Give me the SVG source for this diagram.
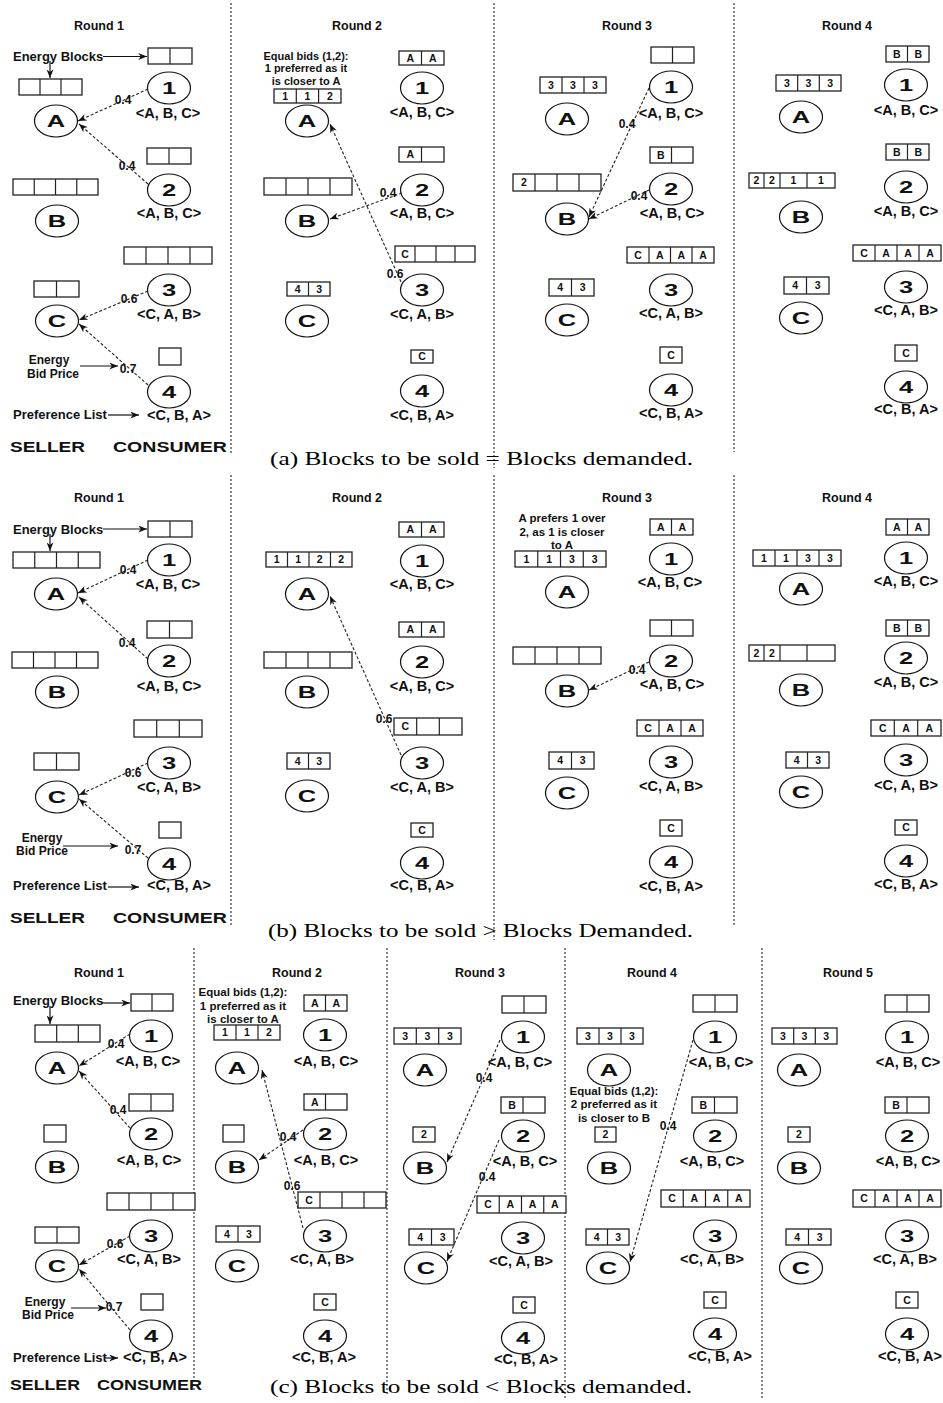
<svg xmlns="http://www.w3.org/2000/svg" width="943" height="1403" viewBox="0 0 943 1403">
<style>
.t{font-family:'Liberation Sans',Arial,sans-serif;font-weight:bold;fill:#111}
.rt{font-size:12.5px;text-anchor:middle}
.pl{font-size:14.5px;text-anchor:middle}
.bl{font-size:12px;text-anchor:middle}
.cl{font-size:17px;text-anchor:middle;transform-box:fill-box;transform-origin:center;transform:scaleX(1.5)}
.cx{font-size:10.5px;text-anchor:middle}
.an{font-size:13px}
.an2{font-size:12px;text-anchor:middle}
.nt{font-size:11.5px;text-anchor:middle}
.sc{font-size:15px}
.cap{font-family:'Liberation Serif','Times New Roman',serif;font-size:19px;fill:#000}
.bx{fill:#fff;stroke:#222;stroke-width:1.3}
.dv{stroke:#222;stroke-width:1.2;fill:none}
.nd{fill:#fff;stroke:#111;stroke-width:1.2}
.cn{fill:none;stroke:#222;stroke-width:1.1;stroke-dasharray:3 2}
.ar{fill:none;stroke:#111;stroke-width:1.2}
.sp{stroke:#444;stroke-width:1.3;stroke-dasharray:2 2}
</style>
<defs>
<marker id="ah" viewBox="0 0 10 8" refX="10" refY="4" markerWidth="9" markerHeight="7" markerUnits="userSpaceOnUse" orient="auto"><path d="M0,0 L10,4 L0,8 L3,4 z" fill="#111"/></marker>
</defs>
<rect width="943" height="1403" fill="#fff"/>

<!-- separators -->
<g id="separators">
<line class="sp" x1="231" y1="3" x2="231" y2="455"/>
<line class="sp" x1="494" y1="3" x2="494" y2="468"/>
<line class="sp" x1="734" y1="3" x2="734" y2="452"/>
<line class="sp" x1="231" y1="475" x2="231" y2="925"/>
<line class="sp" x1="494" y1="475" x2="494" y2="940"/>
<line class="sp" x1="734" y1="475" x2="734" y2="925"/>
<line class="sp" x1="194" y1="948" x2="194" y2="1392"/>
<line class="sp" x1="387" y1="948" x2="387" y2="1395"/>
<line class="sp" x1="565" y1="948" x2="565" y2="1398"/>
<line class="sp" x1="762" y1="948" x2="762" y2="1398"/>
</g>

<!-- titles and captions -->
<g id="titles">
<text class="t rt" x="99" y="30">Round 1</text>
<text class="t rt" x="357" y="30">Round 2</text>
<text class="t rt" x="627" y="30">Round 3</text>
<text class="t rt" x="847" y="30">Round 4</text>
<text class="t rt" x="99" y="502">Round 1</text>
<text class="t rt" x="357" y="502">Round 2</text>
<text class="t rt" x="627" y="502">Round 3</text>
<text class="t rt" x="847" y="502">Round 4</text>
<text class="t rt" x="99" y="977">Round 1</text>
<text class="t rt" x="297" y="977">Round 2</text>
<text class="t rt" x="480" y="977">Round 3</text>
<text class="t rt" x="652" y="977">Round 4</text>
<text class="t rt" x="848" y="977">Round 5</text>
<text class="t sc" x="10" y="452" textLength="75" lengthAdjust="spacingAndGlyphs">SELLER</text>
<text class="t sc" x="113" y="452" textLength="114" lengthAdjust="spacingAndGlyphs">CONSUMER</text>
<text class="t sc" x="10" y="923" textLength="75" lengthAdjust="spacingAndGlyphs">SELLER</text>
<text class="t sc" x="113" y="923" textLength="114" lengthAdjust="spacingAndGlyphs">CONSUMER</text>
<text class="t sc" x="10" y="1390" textLength="70" lengthAdjust="spacingAndGlyphs">SELLER</text>
<text class="t sc" x="97" y="1390" textLength="105" lengthAdjust="spacingAndGlyphs">CONSUMER</text>
<text class="cap" x="270" y="465" textLength="423" lengthAdjust="spacingAndGlyphs">(a) Blocks to be sold = Blocks demanded.</text>
<text class="cap" x="268" y="937" textLength="425" lengthAdjust="spacingAndGlyphs">(b) Blocks to be sold &gt; Blocks Demanded.</text>
<text class="cap" x="270" y="1393" textLength="422" lengthAdjust="spacingAndGlyphs">(c) Blocks to be sold &lt; Blocks demanded.</text>
</g>

<!-- annotations -->
<g id="annotations">
<text class="t an" x="13" y="61">Energy Blocks</text>
<text class="t an2" x="49" y="364">Energy</text>
<text class="t an2" x="53" y="377.5">Bid Price</text>
<text class="t an" x="13" y="419">Preference List</text>
<text class="t an" x="13" y="534">Energy Blocks</text>
<text class="t an2" x="42" y="841.5">Energy</text>
<text class="t an2" x="42" y="855">Bid Price</text>
<text class="t an" x="13" y="890">Preference List</text>
<text class="t an" x="13" y="1005">Energy Blocks</text>
<text class="t an2" x="45" y="1305.5">Energy</text>
<text class="t an2" x="48" y="1319">Bid Price</text>
<text class="t an" x="13" y="1362">Preference List</text>
<text class="t nt" x="306" y="59.6" style="font-size:11px">Equal bids (1,2):</text>
<text class="t nt" x="306" y="72.3" style="font-size:11px">1 preferred as it</text>
<text class="t nt" x="306" y="85" style="font-size:11px">is closer to A</text>
<text class="t nt" x="562" y="522.4">A prefers 1 over</text>
<text class="t nt" x="562" y="535.7">2, as 1 is closer</text>
<text class="t nt" x="562" y="549">to A</text>
<text class="t nt" x="243" y="996.4">Equal bids (1,2):</text>
<text class="t nt" x="243" y="1009.7">1 preferred as it</text>
<text class="t nt" x="243" y="1023">is closer to A</text>
<text class="t nt" x="614" y="1095">Equal bids (1,2):</text>
<text class="t nt" x="614" y="1108.3">2 preferred as it</text>
<text class="t nt" x="614" y="1121.6">is closer to B</text>
</g>

<!-- ===== (a) ===== -->
<g id="a1-A"><rect class="bx" x="19" y="79" width="63" height="16"/><path class="dv" d="M40,79v16M61,79v16"/><ellipse class="nd" cx="56" cy="121" rx="21.5" ry="16"/><text class="t cl" x="56" y="127">A</text></g>
<g id="a1-B"><rect class="bx" x="13" y="179" width="85" height="16"/><path class="dv" d="M34.25,179v16M55.5,179v16M76.75,179v16"/><ellipse class="nd" cx="57" cy="221" rx="21.5" ry="16"/><text class="t cl" x="57" y="227">B</text></g>
<g id="a1-C"><rect class="bx" x="34" y="281" width="45" height="16"/><path class="dv" d="M56.5,281v16"/><ellipse class="nd" cx="57" cy="321" rx="21.5" ry="16"/><text class="t cl" x="57" y="327">C</text></g>
<g id="a1-1"><rect class="bx" x="148" y="48" width="44" height="16"/><path class="dv" d="M170,48v16"/><ellipse class="nd" cx="169" cy="88" rx="21.5" ry="16"/><text class="t cl" x="169" y="94">1</text><text class="t pl" x="168" y="118">&lt;A, B, C&gt;</text></g>
<g id="a1-2"><rect class="bx" x="147" y="148" width="44" height="16"/><path class="dv" d="M169,148v16"/><ellipse class="nd" cx="169" cy="190" rx="21.5" ry="16"/><text class="t cl" x="169" y="196">2</text><text class="t pl" x="169" y="218">&lt;A, B, C&gt;</text></g>
<g id="a1-3"><rect class="bx" x="124" y="247" width="88" height="17"/><path class="dv" d="M146,247v17M168,247v17M190,247v17"/><ellipse class="nd" cx="169" cy="290" rx="21.5" ry="16"/><text class="t cl" x="169" y="296">3</text><text class="t pl" x="169" y="319">&lt;C, A, B&gt;</text></g>
<g id="a1-4"><rect class="bx" x="159" y="348" width="22" height="17"/><ellipse class="nd" cx="169" cy="392" rx="21.5" ry="16"/><text class="t cl" x="169" y="398">4</text><text class="t pl" x="179" y="420">&lt;C, B, A&gt;</text></g>

<g id="a2-A"><rect class="bx" x="274" y="89" width="67" height="14"/><path class="dv" d="M296.3,89v14M318.6,89v14"/><text class="t cx" x="285.2" y="99.8">1</text><text class="t cx" x="307.5" y="99.8">1</text><text class="t cx" x="329.8" y="99.8">2</text><ellipse class="nd" cx="307" cy="121" rx="21.5" ry="16"/><text class="t cl" x="307" y="127">A</text></g>
<g id="a2-B"><rect class="bx" x="264" y="178" width="88" height="17"/><path class="dv" d="M286,178v17M308,178v17M330,178v17"/><ellipse class="nd" cx="307" cy="221" rx="21.5" ry="16"/><text class="t cl" x="307" y="227">B</text></g>
<g id="a2-C"><rect class="bx" x="287" y="282" width="43" height="14"/><path class="dv" d="M308.5,282v14"/><text class="t cx" x="297.75" y="292.8">4</text><text class="t cx" x="319.25" y="292.8">3</text><ellipse class="nd" cx="307" cy="321" rx="21.5" ry="16"/><text class="t cl" x="307" y="327">C</text></g>
<g id="a2-1"><rect class="bx" x="399" y="51" width="45" height="14"/><path class="dv" d="M421.5,51v14"/><text class="t cx" x="410.25" y="61.8">A</text><text class="t cx" x="432.75" y="61.8">A</text><ellipse class="nd" cx="422" cy="88" rx="21.5" ry="16"/><text class="t cl" x="422" y="94">1</text><text class="t pl" x="422" y="117">&lt;A, B, C&gt;</text></g>
<g id="a2-2"><rect class="bx" x="399" y="147" width="45" height="15"/><path class="dv" d="M421.5,147v15"/><text class="t cx" x="410.25" y="158.3">A</text><ellipse class="nd" cx="422" cy="190" rx="21.5" ry="16"/><text class="t cl" x="422" y="196">2</text><text class="t pl" x="422" y="218">&lt;A, B, C&gt;</text></g>
<g id="a2-3"><rect class="bx" x="395" y="246" width="80" height="16"/><path class="dv" d="M415,246v16M436,246v16M455,246v16"/><text class="t cx" x="405" y="257.8">C</text><ellipse class="nd" cx="422" cy="290" rx="21.5" ry="16"/><text class="t cl" x="422" y="296">3</text><text class="t pl" x="422" y="319">&lt;C, A, B&gt;</text></g>
<g id="a2-4"><rect class="bx" x="411" y="350" width="22" height="13"/><text class="t cx" x="422" y="360.3">C</text><ellipse class="nd" cx="422" cy="391" rx="21.5" ry="16"/><text class="t cl" x="422" y="397">4</text><text class="t pl" x="422" y="420">&lt;C, B, A&gt;</text></g>

<g id="a3-A"><rect class="bx" x="540" y="77" width="66" height="16"/><path class="dv" d="M562,77v16M584,77v16"/><text class="t cx" x="551" y="88.8">3</text><text class="t cx" x="573" y="88.8">3</text><text class="t cx" x="595" y="88.8">3</text><ellipse class="nd" cx="567" cy="119" rx="21.5" ry="16"/><text class="t cl" x="567" y="125">A</text></g>
<g id="a3-B"><rect class="bx" x="513" y="174" width="88" height="17"/><path class="dv" d="M535,174v17M557,174v17M579,174v17"/><text class="t cx" x="524" y="186.3">2</text><ellipse class="nd" cx="567" cy="219" rx="21.5" ry="16"/><text class="t cl" x="567" y="225">B</text></g>
<g id="a3-C"><rect class="bx" x="549" y="279" width="45" height="17"/><path class="dv" d="M571.5,279v17"/><text class="t cx" x="560.25" y="291.3">4</text><text class="t cx" x="582.75" y="291.3">3</text><ellipse class="nd" cx="567" cy="320" rx="21.5" ry="16"/><text class="t cl" x="567" y="326">C</text></g>
<g id="a3-1"><rect class="bx" x="651" y="47" width="43" height="16"/><path class="dv" d="M672.5,47v16"/><ellipse class="nd" cx="671" cy="87" rx="21.5" ry="16"/><text class="t cl" x="671" y="93">1</text><text class="t pl" x="671" y="118">&lt;A, B, C&gt;</text></g>
<g id="a3-2"><rect class="bx" x="650" y="147" width="43" height="16"/><path class="dv" d="M671.5,147v16"/><text class="t cx" x="660.75" y="158.8">B</text><ellipse class="nd" cx="671" cy="189" rx="21.5" ry="16"/><text class="t cl" x="671" y="195">2</text><text class="t pl" x="672" y="218">&lt;A, B, C&gt;</text></g>
<g id="a3-3"><rect class="bx" x="627" y="247" width="87" height="16"/><path class="dv" d="M649,247v16M670.5,247v16M692,247v16"/><text class="t cx" x="638" y="258.8">C</text><text class="t cx" x="659.75" y="258.8">A</text><text class="t cx" x="681.25" y="258.8">A</text><text class="t cx" x="703" y="258.8">A</text><ellipse class="nd" cx="671" cy="290" rx="21.5" ry="16"/><text class="t cl" x="671" y="296">3</text><text class="t pl" x="671" y="318">&lt;C, A, B&gt;</text></g>
<g id="a3-4"><rect class="bx" x="660" y="347" width="22" height="16"/><text class="t cx" x="671" y="358.8">C</text><ellipse class="nd" cx="671" cy="390" rx="21.5" ry="16"/><text class="t cl" x="671" y="396">4</text><text class="t pl" x="671" y="418">&lt;C, B, A&gt;</text></g>

<g id="a4-A"><rect class="bx" x="776" y="75" width="65" height="16"/><path class="dv" d="M797.7,75v16M819.3,75v16"/><text class="t cx" x="786.8" y="86.8">3</text><text class="t cx" x="808.5" y="86.8">3</text><text class="t cx" x="830.2" y="86.8">3</text><ellipse class="nd" cx="801" cy="117" rx="21.5" ry="16"/><text class="t cl" x="801" y="123">A</text></g>
<g id="a4-B"><rect class="bx" x="749" y="173" width="86" height="15"/><path class="dv" d="M764,173v15M780,173v15M807,173v15"/><text class="t cx" x="756.5" y="184.3">2</text><text class="t cx" x="772" y="184.3">2</text><text class="t cx" x="793.5" y="184.3">1</text><text class="t cx" x="821" y="184.3">1</text><ellipse class="nd" cx="801" cy="217" rx="21.5" ry="16"/><text class="t cl" x="801" y="223">B</text></g>
<g id="a4-C"><rect class="bx" x="784" y="277" width="45" height="17"/><path class="dv" d="M806.5,277v17"/><text class="t cx" x="795.25" y="289.3">4</text><text class="t cx" x="817.75" y="289.3">3</text><ellipse class="nd" cx="801" cy="318" rx="21.5" ry="16"/><text class="t cl" x="801" y="324">C</text></g>
<g id="a4-1"><rect class="bx" x="886" y="46" width="43" height="16"/><path class="dv" d="M907.5,46v16"/><text class="t cx" x="896.75" y="57.8">B</text><text class="t cx" x="918.25" y="57.8">B</text><ellipse class="nd" cx="906" cy="85" rx="21.5" ry="16"/><text class="t cl" x="906" y="91">1</text><text class="t pl" x="906" y="115">&lt;A, B, C&gt;</text></g>
<g id="a4-2"><rect class="bx" x="886" y="144" width="43" height="16"/><path class="dv" d="M907.5,144v16"/><text class="t cx" x="896.75" y="155.8">B</text><text class="t cx" x="918.25" y="155.8">B</text><ellipse class="nd" cx="906" cy="187" rx="21.5" ry="16"/><text class="t cl" x="906" y="193">2</text><text class="t pl" x="906" y="216">&lt;A, B, C&gt;</text></g>
<g id="a4-3"><rect class="bx" x="853" y="245" width="88" height="16"/><path class="dv" d="M875,245v16M897,245v16M919,245v16"/><text class="t cx" x="864" y="256.8">C</text><text class="t cx" x="886" y="256.8">A</text><text class="t cx" x="908" y="256.8">A</text><text class="t cx" x="930" y="256.8">A</text><ellipse class="nd" cx="906" cy="287" rx="21.5" ry="16"/><text class="t cl" x="906" y="293">3</text><text class="t pl" x="906" y="315">&lt;C, A, B&gt;</text></g>
<g id="a4-4"><rect class="bx" x="895" y="345" width="22" height="16"/><text class="t cx" x="906" y="356.8">C</text><ellipse class="nd" cx="906" cy="387" rx="21.5" ry="16"/><text class="t cl" x="906" y="393">4</text><text class="t pl" x="906" y="414">&lt;C, B, A&gt;</text></g>

<!-- ===== (b) ===== -->
<g id="b1-A"><rect class="bx" x="13" y="552" width="87" height="16"/><path class="dv" d="M34.75,552v16M56.5,552v16M78.25,552v16"/><ellipse class="nd" cx="56" cy="594" rx="21.5" ry="16"/><text class="t cl" x="56" y="600">A</text></g>
<g id="b1-B"><rect class="bx" x="12" y="652" width="86" height="16"/><path class="dv" d="M33.5,652v16M55,652v16M76.5,652v16"/><ellipse class="nd" cx="57" cy="692" rx="21.5" ry="16"/><text class="t cl" x="57" y="698">B</text></g>
<g id="b1-C"><rect class="bx" x="34" y="753" width="45" height="17"/><path class="dv" d="M56.5,753v17"/><ellipse class="nd" cx="57" cy="797" rx="21.5" ry="16"/><text class="t cl" x="57" y="803">C</text></g>
<g id="b1-1"><rect class="bx" x="148" y="521" width="44" height="16"/><path class="dv" d="M170,521v16"/><ellipse class="nd" cx="169" cy="560" rx="21.5" ry="16"/><text class="t cl" x="169" y="566">1</text><text class="t pl" x="168" y="589">&lt;A, B, C&gt;</text></g>
<g id="b1-2"><rect class="bx" x="147" y="621" width="45" height="17"/><path class="dv" d="M169.5,621v17"/><ellipse class="nd" cx="169" cy="661" rx="21.5" ry="16"/><text class="t cl" x="169" y="667">2</text><text class="t pl" x="169" y="691">&lt;A, B, C&gt;</text></g>
<g id="b1-3"><rect class="bx" x="134" y="720" width="68" height="17"/><path class="dv" d="M156.7,720v17M179.3,720v17"/><ellipse class="nd" cx="169" cy="763" rx="21.5" ry="16"/><text class="t cl" x="169" y="769">3</text><text class="t pl" x="169" y="792">&lt;C, A, B&gt;</text></g>
<g id="b1-4"><rect class="bx" x="159" y="822" width="22" height="16"/><ellipse class="nd" cx="169" cy="864" rx="21.5" ry="16"/><text class="t cl" x="169" y="870">4</text><text class="t pl" x="179" y="890">&lt;C, B, A&gt;</text></g>

<g id="b2-A"><rect class="bx" x="266" y="552" width="86" height="15"/><path class="dv" d="M287.5,552v15M309,552v15M330.5,552v15"/><text class="t cx" x="276.75" y="563.3">1</text><text class="t cx" x="298.25" y="563.3">1</text><text class="t cx" x="319.75" y="563.3">2</text><text class="t cx" x="341.25" y="563.3">2</text><ellipse class="nd" cx="307" cy="594" rx="21.5" ry="16"/><text class="t cl" x="307" y="600">A</text></g>
<g id="b2-B"><rect class="bx" x="264" y="652" width="88" height="16"/><path class="dv" d="M286,652v16M308,652v16M330,652v16"/><ellipse class="nd" cx="307" cy="692" rx="21.5" ry="16"/><text class="t cl" x="307" y="698">B</text></g>
<g id="b2-C"><rect class="bx" x="287" y="753" width="43" height="16"/><path class="dv" d="M308.5,753v16"/><text class="t cx" x="297.75" y="764.8">4</text><text class="t cx" x="319.25" y="764.8">3</text><ellipse class="nd" cx="307" cy="796" rx="21.5" ry="16"/><text class="t cl" x="307" y="802">C</text></g>
<g id="b2-1"><rect class="bx" x="399" y="522" width="45" height="15"/><path class="dv" d="M421.5,522v15"/><text class="t cx" x="410.25" y="533.3">A</text><text class="t cx" x="432.75" y="533.3">A</text><ellipse class="nd" cx="422" cy="561" rx="21.5" ry="16"/><text class="t cl" x="422" y="567">1</text><text class="t pl" x="422" y="589">&lt;A, B, C&gt;</text></g>
<g id="b2-2"><rect class="bx" x="399" y="622" width="45" height="15"/><path class="dv" d="M421.5,622v15"/><text class="t cx" x="410.25" y="633.3">A</text><text class="t cx" x="432.75" y="633.3">A</text><ellipse class="nd" cx="422" cy="662" rx="21.5" ry="16"/><text class="t cl" x="422" y="668">2</text><text class="t pl" x="422" y="691">&lt;A, B, C&gt;</text></g>
<g id="b2-3"><rect class="bx" x="394" y="718" width="68" height="17"/><path class="dv" d="M416.7,718v17M439.3,718v17"/><text class="t cx" x="405.3" y="730.3">C</text><ellipse class="nd" cx="422" cy="763" rx="21.5" ry="16"/><text class="t cl" x="422" y="769">3</text><text class="t pl" x="422" y="792">&lt;C, A, B&gt;</text></g>
<g id="b2-4"><rect class="bx" x="411" y="823" width="22" height="14"/><text class="t cx" x="422" y="833.8">C</text><ellipse class="nd" cx="422" cy="863" rx="21.5" ry="16"/><text class="t cl" x="422" y="869">4</text><text class="t pl" x="422" y="890">&lt;C, B, A&gt;</text></g>

<g id="b3-A"><rect class="bx" x="515" y="551" width="91" height="16"/><path class="dv" d="M537.75,551v16M560.5,551v16M583.25,551v16"/><text class="t cx" x="526.4" y="562.8">1</text><text class="t cx" x="549.1" y="562.8">1</text><text class="t cx" x="571.9" y="562.8">3</text><text class="t cx" x="594.6" y="562.8">3</text><ellipse class="nd" cx="567" cy="592" rx="21.5" ry="16"/><text class="t cl" x="567" y="598">A</text></g>
<g id="b3-B"><rect class="bx" x="513" y="647" width="88" height="17"/><path class="dv" d="M535,647v17M557,647v17M579,647v17"/><ellipse class="nd" cx="567" cy="691" rx="21.5" ry="16"/><text class="t cl" x="567" y="697">B</text></g>
<g id="b3-C"><rect class="bx" x="549" y="752" width="45" height="17"/><path class="dv" d="M571.5,752v17"/><text class="t cx" x="560.25" y="764.3">4</text><text class="t cx" x="582.75" y="764.3">3</text><ellipse class="nd" cx="567" cy="793" rx="21.5" ry="16"/><text class="t cl" x="567" y="799">C</text></g>
<g id="b3-1"><rect class="bx" x="650" y="519" width="43" height="16"/><path class="dv" d="M671.5,519v16"/><text class="t cx" x="660.75" y="530.8">A</text><text class="t cx" x="682.25" y="530.8">A</text><ellipse class="nd" cx="671" cy="559" rx="21.5" ry="16"/><text class="t cl" x="671" y="565">1</text><text class="t pl" x="670" y="587">&lt;A, B, C&gt;</text></g>
<g id="b3-2"><rect class="bx" x="650" y="620" width="43" height="16"/><path class="dv" d="M671.5,620v16"/><ellipse class="nd" cx="671" cy="661" rx="21.5" ry="16"/><text class="t cl" x="671" y="667">2</text><text class="t pl" x="672" y="689">&lt;A, B, C&gt;</text></g>
<g id="b3-3"><rect class="bx" x="637" y="720" width="66" height="16"/><path class="dv" d="M659,720v16M681,720v16"/><text class="t cx" x="648" y="731.8">C</text><text class="t cx" x="670" y="731.8">A</text><text class="t cx" x="692" y="731.8">A</text><ellipse class="nd" cx="671" cy="762" rx="21.5" ry="16"/><text class="t cl" x="671" y="768">3</text><text class="t pl" x="671" y="791">&lt;C, A, B&gt;</text></g>
<g id="b3-4"><rect class="bx" x="660" y="820" width="22" height="16"/><text class="t cx" x="671" y="831.8">C</text><ellipse class="nd" cx="671" cy="862" rx="21.5" ry="16"/><text class="t cl" x="671" y="868">4</text><text class="t pl" x="671" y="891">&lt;C, B, A&gt;</text></g>

<g id="b4-A"><rect class="bx" x="753" y="550" width="88" height="16"/><path class="dv" d="M775,550v16M797,550v16M819,550v16"/><text class="t cx" x="764" y="561.8">1</text><text class="t cx" x="786" y="561.8">1</text><text class="t cx" x="808" y="561.8">3</text><text class="t cx" x="830" y="561.8">3</text><ellipse class="nd" cx="801" cy="589" rx="21.5" ry="16"/><text class="t cl" x="801" y="595">A</text></g>
<g id="b4-B"><rect class="bx" x="749" y="645" width="86" height="16"/><path class="dv" d="M764,645v16M780,645v16M807,645v16"/><text class="t cx" x="756.5" y="656.8">2</text><text class="t cx" x="772" y="656.8">2</text><ellipse class="nd" cx="801" cy="690" rx="21.5" ry="16"/><text class="t cl" x="801" y="696">B</text></g>
<g id="b4-C"><rect class="bx" x="786" y="752" width="43" height="16"/><path class="dv" d="M807.5,752v16"/><text class="t cx" x="796.75" y="763.8">4</text><text class="t cx" x="818.25" y="763.8">3</text><ellipse class="nd" cx="801" cy="792" rx="21.5" ry="16"/><text class="t cl" x="801" y="798">C</text></g>
<g id="b4-1"><rect class="bx" x="886" y="519" width="43" height="16"/><path class="dv" d="M907.5,519v16"/><text class="t cx" x="896.75" y="530.8">A</text><text class="t cx" x="918.25" y="530.8">A</text><ellipse class="nd" cx="906" cy="558" rx="21.5" ry="16"/><text class="t cl" x="906" y="564">1</text><text class="t pl" x="906" y="586">&lt;A, B, C&gt;</text></g>
<g id="b4-2"><rect class="bx" x="886" y="620" width="43" height="16"/><path class="dv" d="M907.5,620v16"/><text class="t cx" x="896.75" y="631.8">B</text><text class="t cx" x="918.25" y="631.8">B</text><ellipse class="nd" cx="906" cy="658" rx="21.5" ry="16"/><text class="t cl" x="906" y="664">2</text><text class="t pl" x="906" y="687">&lt;A, B, C&gt;</text></g>
<g id="b4-3"><rect class="bx" x="871" y="720" width="70" height="16"/><path class="dv" d="M894.3,720v16M917.7,720v16"/><text class="t cx" x="882.7" y="731.8">C</text><text class="t cx" x="906" y="731.8">A</text><text class="t cx" x="929.3" y="731.8">A</text><ellipse class="nd" cx="906" cy="760" rx="21.5" ry="16"/><text class="t cl" x="906" y="766">3</text><text class="t pl" x="906" y="790">&lt;C, A, B&gt;</text></g>
<g id="b4-4"><rect class="bx" x="895" y="820" width="22" height="15"/><text class="t cx" x="906" y="831.3">C</text><ellipse class="nd" cx="906" cy="861" rx="21.5" ry="16"/><text class="t cl" x="906" y="867">4</text><text class="t pl" x="906" y="889">&lt;C, B, A&gt;</text></g>

<!-- ===== (c) ===== -->
<g id="c1-A"><rect class="bx" x="35" y="1025" width="65" height="17"/><path class="dv" d="M56.7,1025v17M78.3,1025v17"/><ellipse class="nd" cx="57" cy="1068" rx="21.5" ry="16"/><text class="t cl" x="57" y="1074">A</text></g>
<g id="c1-B"><rect class="bx" x="44" y="1125" width="22" height="17"/><ellipse class="nd" cx="57" cy="1167" rx="21.5" ry="16"/><text class="t cl" x="57" y="1173">B</text></g>
<g id="c1-C"><rect class="bx" x="35" y="1227" width="44" height="16"/><path class="dv" d="M57,1227v16"/><ellipse class="nd" cx="57" cy="1266" rx="21.5" ry="16"/><text class="t cl" x="57" y="1272">C</text></g>
<g id="c1-1"><rect class="bx" x="131" y="994" width="42" height="17"/><path class="dv" d="M152,994v17"/><ellipse class="nd" cx="151" cy="1036" rx="21.5" ry="16"/><text class="t cl" x="151" y="1042">1</text><text class="t pl" x="148" y="1066">&lt;A, B, C&gt;</text></g>
<g id="c1-2"><rect class="bx" x="129" y="1094" width="44" height="17"/><path class="dv" d="M151,1094v17"/><ellipse class="nd" cx="151" cy="1134" rx="21.5" ry="16"/><text class="t cl" x="151" y="1140">2</text><text class="t pl" x="149" y="1165">&lt;A, B, C&gt;</text></g>
<g id="c1-3"><rect class="bx" x="107" y="1193" width="88" height="17"/><path class="dv" d="M129,1193v17M151,1193v17M173,1193v17"/><ellipse class="nd" cx="151" cy="1236" rx="21.5" ry="16"/><text class="t cl" x="151" y="1242">3</text><text class="t pl" x="149" y="1264">&lt;C, A, B&gt;</text></g>
<g id="c1-4"><rect class="bx" x="141" y="1294" width="22" height="16"/><ellipse class="nd" cx="151" cy="1336" rx="21.5" ry="16"/><text class="t cl" x="151" y="1342">4</text><text class="t pl" x="155" y="1362">&lt;C, B, A&gt;</text></g>

<g id="c2-A"><rect class="bx" x="214" y="1025" width="66" height="15"/><path class="dv" d="M236,1025v15M258,1025v15"/><text class="t cx" x="225" y="1036.3">1</text><text class="t cx" x="247" y="1036.3">1</text><text class="t cx" x="269" y="1036.3">2</text><ellipse class="nd" cx="237" cy="1068" rx="21.5" ry="16"/><text class="t cl" x="237" y="1074">A</text></g>
<g id="c2-B"><rect class="bx" x="223" y="1125" width="21" height="17"/><ellipse class="nd" cx="237" cy="1167" rx="21.5" ry="16"/><text class="t cl" x="237" y="1173">B</text></g>
<g id="c2-C"><rect class="bx" x="216" y="1226" width="44" height="16"/><path class="dv" d="M238,1226v16"/><text class="t cx" x="227" y="1237.8">4</text><text class="t cx" x="249" y="1237.8">3</text><ellipse class="nd" cx="237" cy="1266" rx="21.5" ry="16"/><text class="t cl" x="237" y="1272">C</text></g>
<g id="c2-1"><rect class="bx" x="304" y="995" width="43" height="16"/><path class="dv" d="M325.5,995v16"/><text class="t cx" x="314.75" y="1006.8">A</text><text class="t cx" x="336.25" y="1006.8">A</text><ellipse class="nd" cx="325" cy="1035" rx="21.5" ry="16"/><text class="t cl" x="325" y="1041">1</text><text class="t pl" x="326" y="1066">&lt;A, B, C&gt;</text></g>
<g id="c2-2"><rect class="bx" x="304" y="1094" width="43" height="16"/><path class="dv" d="M325.5,1094v16"/><text class="t cx" x="314.75" y="1105.8">A</text><ellipse class="nd" cx="325" cy="1134" rx="21.5" ry="16"/><text class="t cl" x="325" y="1140">2</text><text class="t pl" x="326" y="1165">&lt;A, B, C&gt;</text></g>
<g id="c2-3"><rect class="bx" x="298" y="1192" width="88" height="16"/><path class="dv" d="M320,1192v16M342,1192v16M364,1192v16"/><text class="t cx" x="309" y="1203.8">C</text><ellipse class="nd" cx="325" cy="1236" rx="21.5" ry="16"/><text class="t cl" x="325" y="1242">3</text><text class="t pl" x="322" y="1264">&lt;C, A, B&gt;</text></g>
<g id="c2-4"><rect class="bx" x="314" y="1294" width="22" height="16"/><text class="t cx" x="325" y="1305.8">C</text><ellipse class="nd" cx="325" cy="1336" rx="21.5" ry="16"/><text class="t cl" x="325" y="1342">4</text><text class="t pl" x="324" y="1362">&lt;C, B, A&gt;</text></g>

<g id="c3-A"><rect class="bx" x="394" y="1028" width="67" height="16"/><path class="dv" d="M416.3,1028v16M438.7,1028v16"/><text class="t cx" x="405.2" y="1039.8">3</text><text class="t cx" x="427.5" y="1039.8">3</text><text class="t cx" x="449.8" y="1039.8">3</text><ellipse class="nd" cx="425" cy="1070" rx="21.5" ry="16"/><text class="t cl" x="425" y="1076">A</text></g>
<g id="c3-B"><rect class="bx" x="413" y="1127" width="22" height="15"/><text class="t cx" x="424" y="1138.3">2</text><ellipse class="nd" cx="425" cy="1168" rx="21.5" ry="16"/><text class="t cl" x="425" y="1174">B</text></g>
<g id="c3-C"><rect class="bx" x="409" y="1229" width="45" height="16"/><path class="dv" d="M431.5,1229v16"/><text class="t cx" x="420.25" y="1240.8">4</text><text class="t cx" x="442.75" y="1240.8">3</text><ellipse class="nd" cx="426" cy="1268" rx="21.5" ry="16"/><text class="t cl" x="426" y="1274">C</text></g>
<g id="c3-1"><rect class="bx" x="502" y="996" width="44" height="17"/><path class="dv" d="M524,996v17"/><ellipse class="nd" cx="523" cy="1037" rx="21.5" ry="16"/><text class="t cl" x="523" y="1043">1</text><text class="t pl" x="520" y="1067">&lt;A, B, C&gt;</text></g>
<g id="c3-2"><rect class="bx" x="501" y="1097" width="44" height="16"/><path class="dv" d="M523,1097v16"/><text class="t cx" x="512" y="1108.8">B</text><ellipse class="nd" cx="523" cy="1136" rx="21.5" ry="16"/><text class="t cl" x="523" y="1142">2</text><text class="t pl" x="525" y="1166">&lt;A, B, C&gt;</text></g>
<g id="c3-3"><rect class="bx" x="477" y="1196" width="89" height="17"/><path class="dv" d="M499.25,1196v17M521.5,1196v17M543.75,1196v17"/><text class="t cx" x="488.1" y="1208.3">C</text><text class="t cx" x="510.4" y="1208.3">A</text><text class="t cx" x="532.6" y="1208.3">A</text><text class="t cx" x="554.9" y="1208.3">A</text><ellipse class="nd" cx="523" cy="1238" rx="21.5" ry="16"/><text class="t cl" x="523" y="1244">3</text><text class="t pl" x="521" y="1266">&lt;C, A, B&gt;</text></g>
<g id="c3-4"><rect class="bx" x="513" y="1297" width="22" height="16"/><text class="t cx" x="524" y="1308.8">C</text><ellipse class="nd" cx="523" cy="1338" rx="21.5" ry="16"/><text class="t cl" x="523" y="1344">4</text><text class="t pl" x="526" y="1364">&lt;C, B, A&gt;</text></g>

<g id="c4-A"><rect class="bx" x="577" y="1028" width="66" height="16"/><path class="dv" d="M599,1028v16M621,1028v16"/><text class="t cx" x="588" y="1039.8">3</text><text class="t cx" x="610" y="1039.8">3</text><text class="t cx" x="632" y="1039.8">3</text><ellipse class="nd" cx="609" cy="1070" rx="21.5" ry="16"/><text class="t cl" x="609" y="1076">A</text></g>
<g id="c4-B"><rect class="bx" x="595" y="1127" width="21" height="15"/><text class="t cx" x="605.5" y="1138.3">2</text><ellipse class="nd" cx="609" cy="1168" rx="21.5" ry="16"/><text class="t cl" x="609" y="1174">B</text></g>
<g id="c4-C"><rect class="bx" x="586" y="1229" width="43" height="16"/><path class="dv" d="M607.5,1229v16"/><text class="t cx" x="596.75" y="1240.8">4</text><text class="t cx" x="618.25" y="1240.8">3</text><ellipse class="nd" cx="608" cy="1268" rx="21.5" ry="16"/><text class="t cl" x="608" y="1274">C</text></g>
<g id="c4-1"><rect class="bx" x="693" y="995" width="44" height="17"/><path class="dv" d="M715,995v17"/><ellipse class="nd" cx="715" cy="1037" rx="21.5" ry="16"/><text class="t cl" x="715" y="1043">1</text><text class="t pl" x="721" y="1067">&lt;A, B, C&gt;</text></g>
<g id="c4-2"><rect class="bx" x="692" y="1097" width="45" height="16"/><path class="dv" d="M714.5,1097v16"/><text class="t cx" x="703.25" y="1108.8">B</text><ellipse class="nd" cx="715" cy="1136" rx="21.5" ry="16"/><text class="t cl" x="715" y="1142">2</text><text class="t pl" x="712" y="1166">&lt;A, B, C&gt;</text></g>
<g id="c4-3"><rect class="bx" x="661" y="1190" width="89" height="17"/><path class="dv" d="M683.25,1190v17M705.5,1190v17M727.75,1190v17"/><text class="t cx" x="672.1" y="1202.3">C</text><text class="t cx" x="694.4" y="1202.3">A</text><text class="t cx" x="716.6" y="1202.3">A</text><text class="t cx" x="738.9" y="1202.3">A</text><ellipse class="nd" cx="715" cy="1236" rx="21.5" ry="16"/><text class="t cl" x="715" y="1242">3</text><text class="t pl" x="712" y="1264">&lt;C, A, B&gt;</text></g>
<g id="c4-4"><rect class="bx" x="704" y="1292" width="22" height="16"/><text class="t cx" x="715" y="1303.8">C</text><ellipse class="nd" cx="715" cy="1334" rx="21.5" ry="16"/><text class="t cl" x="715" y="1340">4</text><text class="t pl" x="720" y="1361">&lt;C, B, A&gt;</text></g>

<g id="c5-A"><rect class="bx" x="772" y="1028" width="65" height="16"/><path class="dv" d="M793.7,1028v16M815.3,1028v16"/><text class="t cx" x="782.8" y="1039.8">3</text><text class="t cx" x="804.5" y="1039.8">3</text><text class="t cx" x="826.2" y="1039.8">3</text><ellipse class="nd" cx="799" cy="1070" rx="21.5" ry="16"/><text class="t cl" x="799" y="1076">A</text></g>
<g id="c5-B"><rect class="bx" x="788" y="1127" width="22" height="15"/><text class="t cx" x="799" y="1138.3">2</text><ellipse class="nd" cx="799" cy="1168" rx="21.5" ry="16"/><text class="t cl" x="799" y="1174">B</text></g>
<g id="c5-C"><rect class="bx" x="786" y="1229" width="45" height="16"/><path class="dv" d="M808.5,1229v16"/><text class="t cx" x="797.25" y="1240.8">4</text><text class="t cx" x="819.75" y="1240.8">3</text><ellipse class="nd" cx="801" cy="1268" rx="21.5" ry="16"/><text class="t cl" x="801" y="1274">C</text></g>
<g id="c5-1"><rect class="bx" x="885" y="995" width="44" height="17"/><path class="dv" d="M907,995v17"/><ellipse class="nd" cx="907" cy="1037" rx="21.5" ry="16"/><text class="t cl" x="907" y="1043">1</text><text class="t pl" x="908" y="1067">&lt;A, B, C&gt;</text></g>
<g id="c5-2"><rect class="bx" x="885" y="1097" width="44" height="16"/><path class="dv" d="M907,1097v16"/><text class="t cx" x="896" y="1108.8">B</text><ellipse class="nd" cx="907" cy="1136" rx="21.5" ry="16"/><text class="t cl" x="907" y="1142">2</text><text class="t pl" x="908" y="1166">&lt;A, B, C&gt;</text></g>
<g id="c5-3"><rect class="bx" x="853" y="1190" width="88" height="17"/><path class="dv" d="M875,1190v17M897,1190v17M919,1190v17"/><text class="t cx" x="864" y="1202.3">C</text><text class="t cx" x="886" y="1202.3">A</text><text class="t cx" x="908" y="1202.3">A</text><text class="t cx" x="930" y="1202.3">A</text><ellipse class="nd" cx="907" cy="1236" rx="21.5" ry="16"/><text class="t cl" x="907" y="1242">3</text><text class="t pl" x="905" y="1264">&lt;C, A, B&gt;</text></g>
<g id="c5-4"><rect class="bx" x="896" y="1292" width="22" height="16"/><text class="t cx" x="907" y="1303.8">C</text><ellipse class="nd" cx="907" cy="1334" rx="21.5" ry="16"/><text class="t cl" x="907" y="1340">4</text><text class="t pl" x="910" y="1361">&lt;C, B, A&gt;</text></g>

<!-- connectors -->
<g id="connectors">
<line class="ar" x1="103" y1="56.5" x2="147" y2="56.5" marker-end="url(#ah)"/>
<line class="ar" x1="50" y1="61" x2="50" y2="78" marker-end="url(#ah)"/>
<line class="ar" x1="80" y1="366" x2="118" y2="366" marker-end="url(#ah)"/>
<line class="ar" x1="108" y1="415" x2="139" y2="415" marker-end="url(#ah)"/>
<line class="cn" x1="148" y1="89" x2="78" y2="121" marker-end="url(#ah)"/>
<line class="cn" x1="148" y1="184" x2="79" y2="124" marker-end="url(#ah)"/>
<line class="cn" x1="148" y1="291" x2="79" y2="320" marker-end="url(#ah)"/>
<line class="cn" x1="148" y1="385" x2="79" y2="324" marker-end="url(#ah)"/>
<line class="cn" x1="402" y1="193" x2="330" y2="219" marker-end="url(#ah)"/>
<line class="cn" x1="401" y1="282" x2="330" y2="124" marker-end="url(#ah)"/>
<line class="cn" x1="649" y1="88" x2="589" y2="217" marker-end="url(#ah)"/>
<line class="cn" x1="649" y1="190" x2="589" y2="219" marker-end="url(#ah)"/>

<line class="ar" x1="103" y1="529" x2="147" y2="529" marker-end="url(#ah)"/>
<line class="ar" x1="50" y1="534" x2="50" y2="551" marker-end="url(#ah)"/>
<line class="ar" x1="63" y1="846" x2="118" y2="846" marker-end="url(#ah)"/>
<line class="ar" x1="108" y1="887" x2="139" y2="887" marker-end="url(#ah)"/>
<line class="cn" x1="148" y1="560" x2="78" y2="593" marker-end="url(#ah)"/>
<line class="cn" x1="148" y1="659" x2="79" y2="597" marker-end="url(#ah)"/>
<line class="cn" x1="148" y1="763" x2="79" y2="795" marker-end="url(#ah)"/>
<line class="cn" x1="148" y1="858" x2="79" y2="799" marker-end="url(#ah)"/>
<line class="cn" x1="401" y1="755" x2="330" y2="596" marker-end="url(#ah)"/>
<line class="cn" x1="649" y1="662" x2="589" y2="690" marker-end="url(#ah)"/>

<line class="ar" x1="102" y1="1003" x2="130" y2="1003" marker-end="url(#ah)"/>
<line class="ar" x1="50" y1="1006" x2="50" y2="1024" marker-end="url(#ah)"/>
<line class="ar" x1="71" y1="1308" x2="106" y2="1308" marker-end="url(#ah)"/>
<line class="ar" x1="105" y1="1358" x2="118" y2="1358" marker-end="url(#ah)"/>
<line class="cn" x1="130" y1="1034" x2="79" y2="1066" marker-end="url(#ah)"/>
<line class="cn" x1="130" y1="1128" x2="79" y2="1071" marker-end="url(#ah)"/>
<line class="cn" x1="130" y1="1236" x2="79" y2="1265" marker-end="url(#ah)"/>
<line class="cn" x1="130" y1="1330" x2="79" y2="1269" marker-end="url(#ah)"/>
<line class="cn" x1="303" y1="1130" x2="259" y2="1160" marker-end="url(#ah)"/>
<line class="cn" x1="303" y1="1228" x2="262" y2="1070" marker-end="url(#ah)"/>
<line class="cn" x1="500" y1="1040" x2="447" y2="1162" marker-end="url(#ah)"/>
<line class="cn" x1="499" y1="1140" x2="447" y2="1261" marker-end="url(#ah)"/>
<line class="cn" x1="693" y1="1040" x2="630" y2="1262" marker-end="url(#ah)"/>

<text class="t bl" x="123" y="104">0.4</text>
<text class="t bl" x="127" y="170">0.4</text>
<text class="t bl" x="129" y="303">0.6</text>
<text class="t bl" x="128" y="373">0.7</text>
<text class="t bl" x="388" y="197">0.4</text>
<text class="t bl" x="395" y="278">0.6</text>
<text class="t bl" x="627" y="128">0.4</text>
<text class="t bl" x="639" y="200">0.4</text>
<text class="t bl" x="128" y="574">0.4</text>
<text class="t bl" x="127" y="647">0.4</text>
<text class="t bl" x="133" y="777">0.6</text>
<text class="t bl" x="133" y="854">0.7</text>
<text class="t bl" x="384" y="723">0.6</text>
<text class="t bl" x="637" y="674">0.4</text>
<text class="t bl" x="116" y="1048">0.4</text>
<text class="t bl" x="118" y="1114">0.4</text>
<text class="t bl" x="115" y="1248">0.6</text>
<text class="t bl" x="114" y="1311">0.7</text>
<text class="t bl" x="288" y="1141">0.4</text>
<text class="t bl" x="292" y="1190">0.6</text>
<text class="t bl" x="484" y="1082">0.4</text>
<text class="t bl" x="487" y="1181">0.4</text>
<text class="t bl" x="668" y="1130">0.4</text>
</g>
</svg>
